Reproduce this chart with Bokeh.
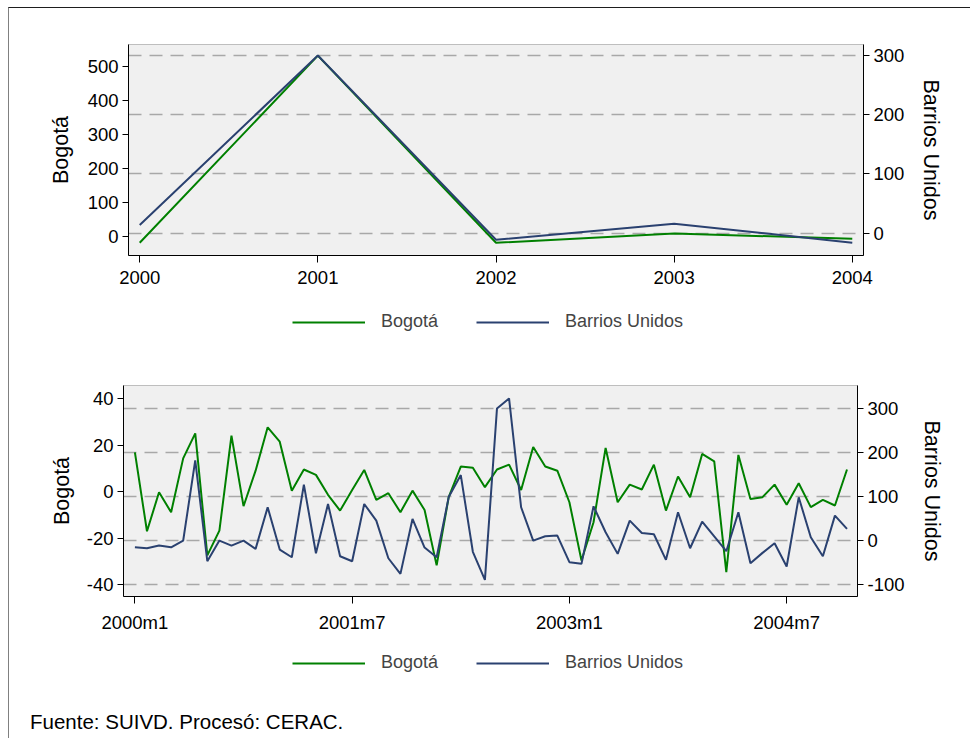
from bokeh.plotting import figure
from bokeh.models import (Range1d, LinearAxis, Grid, FixedTicker, Legend, LegendItem, Div)
from bokeh.layouts import column, row
from bokeh.embed import file_html
from bokeh.resources import INLINE

# ---------------- data ----------------
years = [2000, 2001, 2002, 2003, 2004]
bogota_year = [-18.5, 532, -18.5, 9, -7]
barrios_year = [14, 300, -11, 16, -16]

month_labels = [f"{y}m{m}" for y in range(2000, 2005) for m in range(1, 13)]
bogota_month = [16.9, -17.1, -0.3, -8.9, 14.3, 25.1, -27.5, -16.8, 24.1, -6.3,
                9.0, 27.7, 21.5, 0.4, 9.5, 7.2, -1.4, -8.2, 0.7, 9.3,
                -3.6, -0.7, -8.9, 0.4, -7.9, -31.8, -2.4, 10.8, 10.3, 1.9,
                9.5, 11.6, 0.7, 19.2, 10.8, 9.0, -4.6, -29.7, -13.2, 18.8,
                -4.6, 3.0, 0.9, 11.6, -8.2, 6.5, -2.4, 16.2, 13.0, -34.7,
                15.8, -3.2, -2.4, 3.0, -5.7, 3.6, -6.7, -3.6, -6.0, 9.5]
barrios_month = [-15.2, -17.4, -11.4, -15.2, 0, 182.6, -47, 0, -11.4, 0,
                 -18.9, 75.8, -20.5, -37.9, 127.3, -28.8, 83.3, -35.6, -47, 83.3,
                 45.5, -40.2, -75.8, 49.2, -15.9, -37.9, 99, 149.2, -25.5, -89.4,
                 300.8, 323.5, 75.8, 0, 9.8, 11.4, -49.2, -53, 78, 18.9,
                 -30.3, 45.5, 17.4, 14.4, -43.9, 64.4, -17.4, 43.2, 9.8, -24.2,
                 64.4, -51.5, -28, -6, -59, 98.5, 7.6, -35.6, 56.8, 26.5]
month_ticks = ["2000m1", "2001m7", "2003m1", "2004m7"]

left_ticks_top = [0, 100, 200, 300, 400, 500]
right_ticks_top = [0, 100, 200, 300]
left_ticks_bot = [-40, -20, 0, 20, 40]
right_ticks_bot = [-100, 0, 100, 200, 300]

GREEN = "#008000"
NAVY = "#2a4170"
FONT = "Liberation Sans"
TICK_FS = "18.5px"
TITLE_FS = "21.5px"
W = 961


def style_axis(ax):
    ax.axis_line_color = "black"
    ax.axis_line_width = 1
    ax.major_tick_line_color = "black"
    ax.major_tick_out = 6
    ax.major_tick_in = 0
    ax.minor_tick_line_color = None
    ax.major_label_text_font = FONT
    ax.major_label_text_font_size = TICK_FS
    ax.major_label_text_color = "black"
    ax.axis_label_text_font = FONT
    ax.axis_label_text_font_size = TITLE_FS
    ax.axis_label_text_font_style = "normal"
    ax.axis_label_text_color = "black"


def hyphen_labels(ticks):
    return {t: str(t) for t in ticks}


def panel(x, xr, yl, yr, lt, rt, xt, xt_over, bog, bu, h, mb, lstand):
    p = figure(width=W, height=h, x_range=Range1d(*xr), y_range=Range1d(*yl),
               output_backend="svg", toolbar_location=None,
               min_border_left=mb[0], min_border_right=mb[1],
               min_border_top=mb[2], min_border_bottom=mb[3],
               background_fill_color="#F0F0F0", border_fill_color="white",
               outline_line_color="#BEBEBE", outline_line_width=1)
    p.extra_y_ranges = {"right": Range1d(*yr)}
    p.xgrid.visible = False
    p.ygrid.visible = False
    g = Grid(dimension=1, ticker=FixedTicker(ticks=rt), y_range_name="right",
             grid_line_color="#A8A8A8", grid_line_width=1.5, grid_line_dash="13 8")
    p.add_layout(g)

    xa = p.xaxis[0]
    xa.ticker = FixedTicker(ticks=xt)
    if xt_over:
        xa.major_label_overrides = xt_over
    style_axis(xa)
    xa.major_tick_out = 7
    xa.major_label_standoff = 8

    ya = p.yaxis[0]
    ya.ticker = FixedTicker(ticks=lt)
    ya.major_label_overrides = hyphen_labels(lt)
    ya.axis_label = "Bogotá"
    style_axis(ya)
    ya.major_label_standoff = 4
    ya.axis_label_standoff = lstand

    ra = LinearAxis(y_range_name="right", ticker=FixedTicker(ticks=rt), axis_label="Barrios Unidos")
    ra.major_label_overrides = hyphen_labels(rt)
    style_axis(ra)
    ra.major_label_standoff = 4
    ra.axis_label_standoff = 12
    p.add_layout(ra, "right")

    p.line(x, bog, line_color=GREEN, line_width=2)
    p.line(x, bu, line_color=NAVY, line_width=2, y_range_name="right")
    return p


def legend_strip(x, bog, bu, h, loc):
    q = figure(width=W, height=h, x_range=Range1d(0, 1), y_range=Range1d(0, 1),
               output_backend="svg", toolbar_location=None,
               x_axis_type=None, y_axis_type=None,
               min_border_left=119, min_border_right=0, min_border_top=0, min_border_bottom=0,
               outline_line_color=None, background_fill_color="white",
               border_fill_color="white")
    q.xgrid.visible = False
    q.ygrid.visible = False
    r1 = q.line(x, bog, line_color=GREEN, line_width=2, visible=False)
    r2 = q.line(x, bu, line_color=NAVY, line_width=2, visible=False)
    leg = Legend(items=[LegendItem(label="Bogotá", renderers=[r1]),
                        LegendItem(label="Barrios Unidos", renderers=[r2])],
                 orientation="horizontal", location=loc,
                 glyph_width=73, glyph_height=20, label_standoff=16, spacing=38,
                 padding=0, margin=0, border_line_color=None, background_fill_alpha=0,
                 inactive_fill_alpha=0,
                 label_text_font=FONT, label_text_font_size="18px", label_height=20)
    q.add_layout(leg)
    return q


top = panel(years, (1999.937, 2004.063), (-55.9, 564.7), (-37.6, 318.6),
            left_ticks_top, right_ticks_top, years, None,
            bogota_year, barrios_year, 292, (119, 107, 36, 45), 12)
top_leg = legend_strip(years, bogota_year, barrios_year, 45, (164, 13))

mx = list(range(len(month_labels)))
tick_idx = [month_labels.index(t) for t in month_ticks]
over = {i: t for i, t in zip(tick_idx, month_ticks)}
bot = panel(mx, (-0.945, 59.87), (-45.2, 45.7), (-127.3, 353),
            left_ticks_bot, right_ticks_bot, tick_idx, over,
            bogota_month, barrios_month, 295, (114, 113, 40, 44), 10)
bot_leg = legend_strip(mx, bogota_month, barrios_month, 45, (164, 12))

footer = Div(text="Fuente: SUIVD. Procesó: CERAC.", width=600, height=53,
             margin=(0, 0, 0, 21),
             styles={"font-family": "Liberation Sans", "font-size": "20.5px",
                     "color": "black", "padding-top": "25px", "line-height": "23px"})

layout = column(row(top), row(top_leg), row(bot), row(bot_leg), footer,
                spacing=0, margin=(7, 0, 0, 8),
                styles={"border-top": "1px solid #1e1e1e", "border-left": "1px solid #808080"})

open("out.html", "w").write(file_html(layout, INLINE))
